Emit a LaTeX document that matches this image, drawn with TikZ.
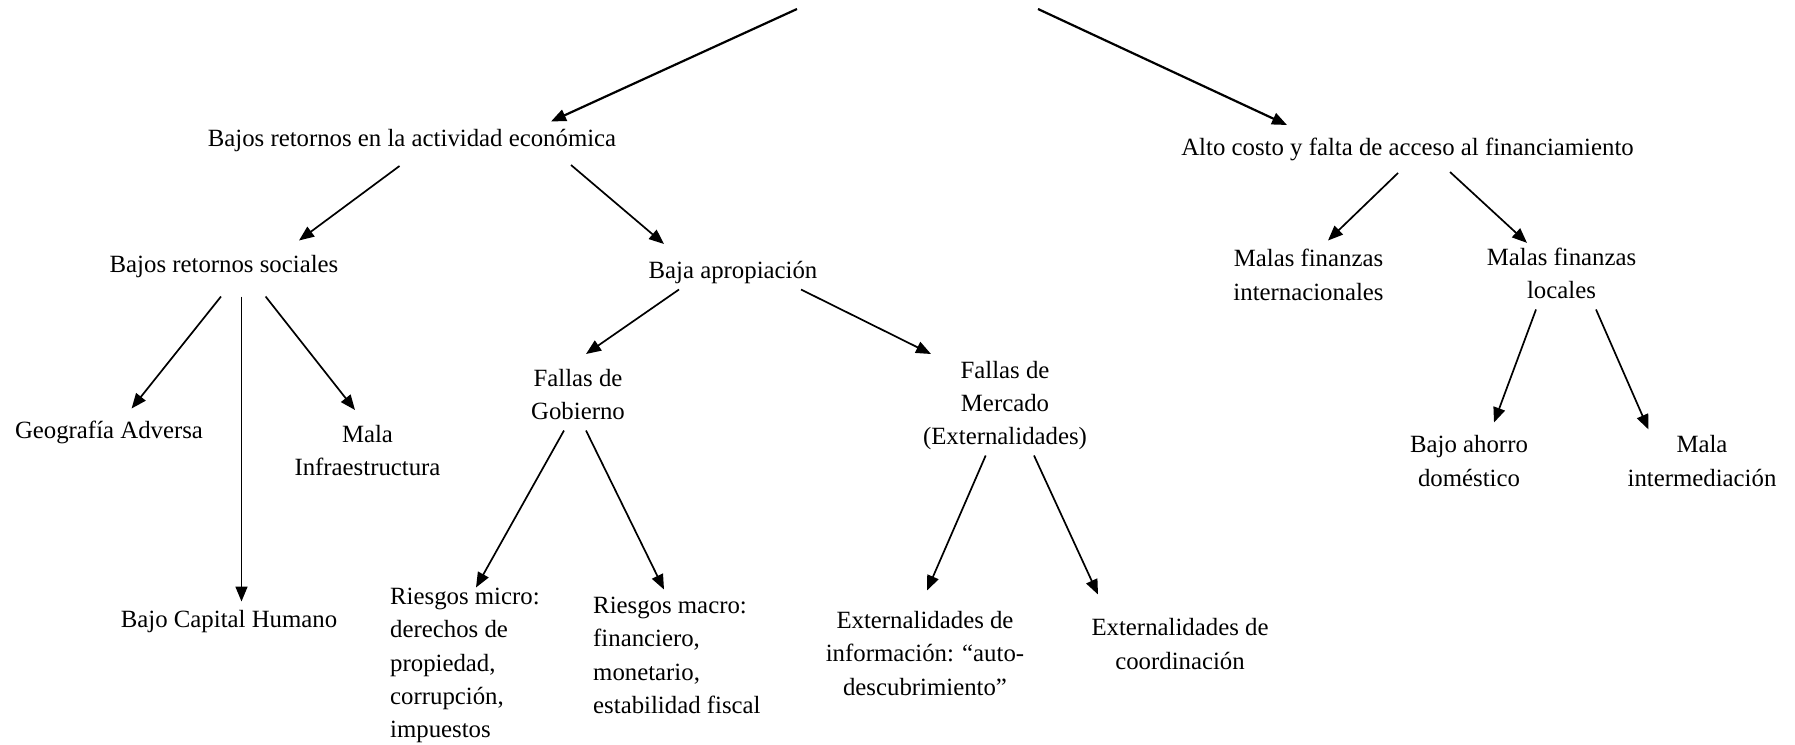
\documentclass[tikz,border=0pt]{standalone}
\usepackage{fontspec}
\setmainfont{Liberation Serif}
\usetikzlibrary{arrows.meta,calc}

\tikzset{
  lbl/.style={inner sep=0pt, align=center, yshift=-2.5pt, font=\fontsize{24.8}{33.3}\selectfont},
  lbll/.style={lbl, align=left, anchor=west},
  arr/.style={line width=1.7pt, -{Triangle[length=15pt,width=12pt]}},
  toparr/.style={arr, line width=2.2pt}
}

\begin{document}
\begin{tikzpicture}[x=1pt,y=-1pt]
\useasboundingbox (0,0) rectangle (1795,744);

  % level 1
  \node[lbl] (bre) at (412,138.5) {Bajos retornos en la actividad econ\'omica};
  \node[lbl] (alto) at (1407.5,146.5) {Alto costo y falta de acceso al financiamiento};

  % level 2
  \node[lbl] (brs) at (224,264.5) {Bajos retornos sociales};
  \node[lbl] (baja) at (733,270) {Baja apropiaci\'on};
  \node[lbl] (mfi) at (1308.5,272.5) {Malas finanzas\\internacionales};
  \node[lbl] (mfl) at (1561.5,270.7) {Malas finanzas\\locales};

  % level 3
  \node[lbl] (geo) at (109,430) {Geograf\'ia Adversa};
  \node[lbl] (infra) at (367.5,448) {Mala\\Infraestructura};
  \node[lbl] (bch) at (229,619) {Bajo Capital Humano};
  \node[lbl] (gob) at (578,392) {Fallas de\\Gobierno};
  \node[lbl] (merc) at (1005,403) {Fallas de\\Mercado\\(Externalidades)};
  \node[lbl] (aho) at (1469,458.5) {Bajo ahorro\\dom\'estico};
  \node[lbl] (mint) at (1702,458.5) {Mala\\intermediaci\'on};

  % level 4
  \node[lbll] (micro) at (390,663) {Riesgos micro:\\derechos de\\propiedad,\\corrupci\'on,\\impuestos};
  \node[lbll] (macro) at (593,653) {Riesgos macro:\\financiero,\\monetario,\\estabilidad fiscal};
  \node[lbl] (info) at (925,651) {Externalidades de\\informaci\'on: “auto-\\descubrimiento”};
  \node[lbl] (coord) at (1180,641.6) {Externalidades de\\coordinaci\'on};

  % arrows from the top (cut off)
  \coordinate (topL) at (797,9);
  \coordinate (topR) at (1038,9);
  \draw[toparr] (topL) -- ($(bre)+(139,-19.5)$);
  \draw[toparr] (topR) -- ($(alto)+(-120.5,-24)$);

  \draw[arr] ($(bre)+(-12.5,25)$) -- ($(brs)+(75,-26.5)$);
  \draw[arr] ($(bre)+(159,24)$) -- ($(baja)+(-69,-28.5)$);

  \draw[arr] ($(brs)+(-3,29.5)$) -- ($(geo)+(22.6,-24)$);
  \draw[arr] ($(brs)+(17.5,29.5)$) -- ($(bch)+(12.5,-20)$);
  \draw[arr] ($(brs)+(41.6,29.5)$) -- ($(infra)+(-12.5,-40.5)$);

  \draw[arr] ($(baja)+(-54,17)$) -- ($(gob)+(8,-40.5)$);
  \draw[arr] ($(baja)+(68,17)$) -- ($(merc)+(-74,-51.5)$);

  \draw[arr] ($(gob)+(-14,36)$) -- ($(micro.west)+(86,-78)$);
  \draw[arr] ($(gob)+(8,36)$) -- ($(macro.west)+(71,-66)$);

  \draw[arr] ($(merc)+(-19.3,50)$) -- ($(info)+(2,-63)$);
  \draw[arr] ($(merc)+(29,50)$) -- ($(coord)+(-82,-49.6)$);

  \draw[arr] ($(alto)+(-9.5,24)$) -- ($(mfi)+(19.5,-34.5)$);
  \draw[arr] ($(alto)+(42.5,23)$) -- ($(mfl)+(-34.5,-30.3)$);

  \draw[arr] ($(mfl)+(-25.5,36.3)$) -- ($(aho)+(25,-38.5)$);
  \draw[arr] ($(mfl)+(34.5,36.3)$) -- ($(mint)+(-53.5,-31.5)$);
\end{tikzpicture}
\end{document}
